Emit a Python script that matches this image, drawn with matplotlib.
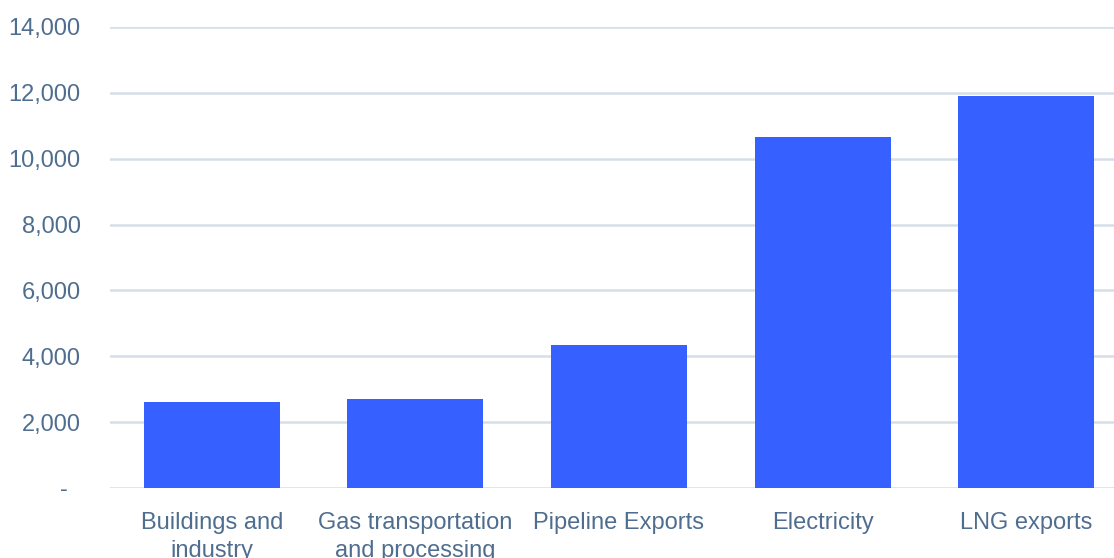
import matplotlib
matplotlib.use("Agg")
import matplotlib.pyplot as plt
from matplotlib.ticker import FuncFormatter

# data
categories = ['Buildings and\nindustry', 'Gas transportation\nand processing',
              'Pipeline Exports', 'Electricity', 'LNG exports']
values = [2610, 2700, 4340, 10670, 11910]
y_ticks = [0, 2000, 4000, 6000, 8000, 10000, 12000, 14000]

bar_color = '#3660ff'
text_color = '#4f6e8f'
grid_color = '#d6dfe8'

plt.rcParams['font.family'] = ['Liberation Sans', 'DejaVu Sans']

fig = plt.figure(figsize=(11.14, 5.58), dpi=100)
# axes run a little past the right edge, like the cropped original
ax = fig.add_axes([110 / 1114, 70 / 558, 1018 / 1114, 461 / 558])

x = range(len(categories))
ax.bar(x, values, width=0.667, color=bar_color, zorder=3)

ax.set_xlim(-0.5, len(categories) - 0.5)
ax.set_ylim(0, 14000)
ax.set_yticks(y_ticks)
ax.yaxis.set_major_formatter(FuncFormatter(lambda v, p: '-  ' if v == 0 else f'{int(v):,}'))
ax.set_xticks(list(x))
ax.set_xticklabels(categories, linespacing=1.35)

ax.grid(axis='y', color=grid_color, linewidth=1.8, zorder=0)
ax.set_axisbelow(True)
for s in ax.spines.values():
    s.set_visible(False)
ax.tick_params(axis='both', length=0, labelsize=17, colors=text_color)
ax.tick_params(axis='y', pad=21)
ax.tick_params(axis='x', pad=17)

fig.savefig('out.png', dpi=100)
